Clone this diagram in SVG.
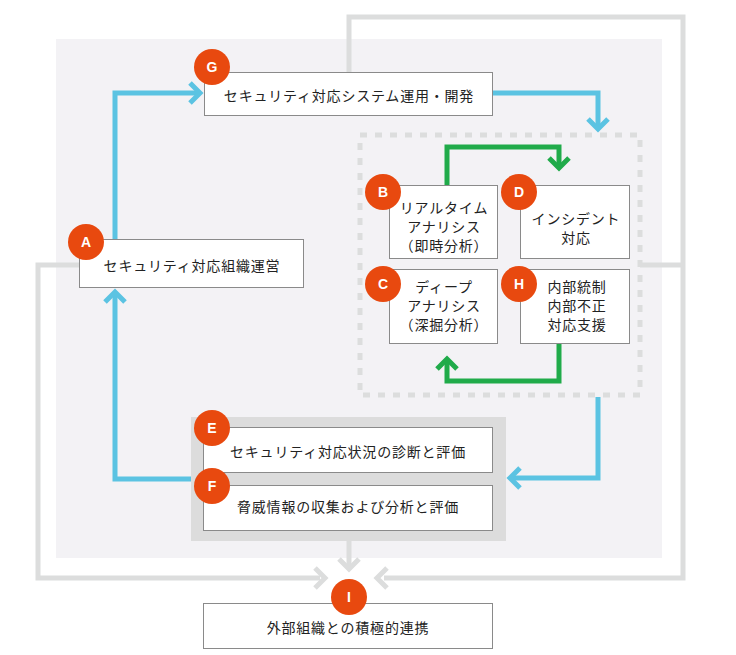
<svg xmlns="http://www.w3.org/2000/svg" width="736" height="655" viewBox="0 0 736 655">
<style>
.box{fill:#fff;stroke:#8a8a8a;stroke-width:1}
.t{font-family:"Noto Sans CJK JP","Noto Sans",sans-serif;font-size:14px;fill:#222;text-anchor:middle;letter-spacing:0.8px}
.badge circle{fill:#e8490f}
.badge text{font-family:"Liberation Sans","Noto Sans",sans-serif;font-size:14px;font-weight:bold;fill:#fff;text-anchor:middle}
.gray{fill:none;stroke:#dcdddd;stroke-width:5}
.blue{fill:none;stroke:#5bc3e2;stroke-width:5}
.green{fill:none;stroke:#20ab4a;stroke-width:5}
</style>
<rect x="0" y="0" width="736" height="655" fill="#fff"/>
<rect id="panel" x="56" y="39" width="606" height="519" fill="#f3f2f5"/>
<g id="connectors">
  <path class="gray" d="M349 72 V17 H683 V578 H384"/>
  <path class="gray" d="M640 265 H683"/>
  <path class="gray" d="M79 265 H38 V578 H320"/>
  <path class="gray" d="M349 541 V568"/>
  <path class="gray" d="M315 568 L325 578 L315 588"/>
  <path class="gray" d="M387 568 L377 578 L387 588"/>
  <path class="gray" d="M339 559 L349 569 L359 559"/>
  <path class="blue" d="M115 239 V93 H198"/>
  <path class="blue" d="M190 83 L200 93 L190 103"/>
  <path class="blue" d="M493 93 H598 V127"/>
  <path class="blue" d="M588 119 L598 129 L608 119"/>
  <path class="blue" d="M598 397 V478 H512"/>
  <path class="blue" d="M520 468 L510 478 L520 488"/>
  <path class="blue" d="M191 479 H115 V295"/>
  <path class="blue" d="M105 302 L115 292 L125 302"/>
  <path class="green" d="M447 185 V147 H559 V166"/>
  <path class="green" d="M549 158 L559 168 L569 158"/>
  <path class="green" d="M559 343 V381 H447 V362"/>
  <path class="green" d="M437 369 L447 359 L457 369"/>
</g>
<rect id="group-B-D-C-H" x="360" y="135" width="280" height="260" fill="none" stroke="#dcdddd" stroke-width="5" stroke-dasharray="7 8"/>
<rect id="group-E-F" x="191" y="417" width="315" height="124" fill="#dcdcdc"/>
<g id="node-G">
  <rect class="box" x="204.5" y="72.5" width="288" height="43"/>
  <text class="t" x="349" y="101">セキュリティ対応システム運用・開発</text>
  <g class="badge"><circle cx="212" cy="67" r="18"/><text x="212" y="72">G</text></g>
</g>
<g id="node-A">
  <rect class="box" x="79.5" y="239.5" width="224" height="48"/>
  <text class="t" x="192" y="271">セキュリティ対応組織運営</text>
  <g class="badge"><circle cx="86" cy="242" r="18"/><text x="86" y="247">A</text></g>
</g>
<g id="node-B">
  <rect class="box" x="389.5" y="185.5" width="108" height="73"/>
  <text class="t" x="444" y="213">リアルタイム</text>
  <text class="t" x="444" y="232">アナリシス</text>
  <text class="t" x="444" y="251">（即時分析）</text>
  <g class="badge"><circle cx="383" cy="192" r="18"/><text x="383" y="197">B</text></g>
</g>
<g id="node-D">
  <rect class="box" x="520.5" y="185.5" width="109" height="73"/>
  <text class="t" x="576" y="224">インシデント</text>
  <text class="t" x="576" y="243">対応</text>
  <g class="badge"><circle cx="519" cy="192" r="18"/><text x="519" y="197">D</text></g>
</g>
<g id="node-C">
  <rect class="box" x="389.5" y="269.5" width="108" height="74"/>
  <text class="t" x="444" y="292">ディープ</text>
  <text class="t" x="444" y="311">アナリシス</text>
  <text class="t" x="444" y="330">（深掘分析）</text>
  <g class="badge"><circle cx="383" cy="284" r="18"/><text x="383" y="289">C</text></g>
</g>
<g id="node-H">
  <rect class="box" x="520.5" y="269.5" width="109" height="74"/>
  <text class="t" x="577" y="292">内部統制</text>
  <text class="t" x="577" y="311">内部不正</text>
  <text class="t" x="577" y="330">対応支援</text>
  <g class="badge"><circle cx="519" cy="284" r="18"/><text x="519" y="289">H</text></g>
</g>
<g id="node-E">
  <rect class="box" x="203.5" y="427.5" width="289" height="45"/>
  <text class="t" x="348" y="457">セキュリティ対応状況の診断と評価</text>
  <g class="badge"><circle cx="212" cy="428" r="18"/><text x="212" y="433">E</text></g>
</g>
<g id="node-F">
  <rect class="box" x="203.5" y="485.5" width="289" height="45"/>
  <text class="t" x="348" y="512">脅威情報の収集および分析と評価</text>
  <g class="badge"><circle cx="212" cy="486" r="18"/><text x="212" y="491">F</text></g>
</g>
<g id="node-I">
  <rect class="box" x="203.5" y="603.5" width="289" height="45"/>
  <text class="t" x="348" y="633">外部組織との積極的連携</text>
  <g class="badge"><circle cx="349" cy="597" r="18"/><text x="349" y="602">I</text></g>
</g>
</svg>
